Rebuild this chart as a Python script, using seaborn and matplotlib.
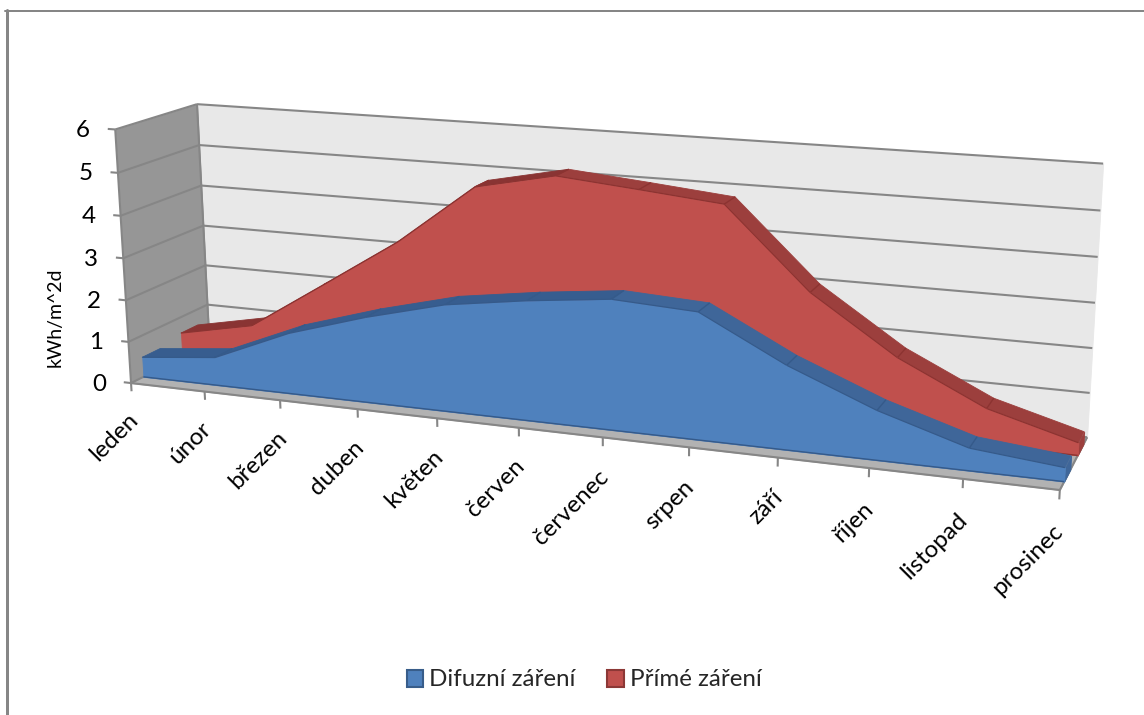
import numpy as np
import matplotlib
matplotlib.use("Agg")
import matplotlib.pyplot as plt
from matplotlib.lines import Line2D
from matplotlib.patches import Patch
from mpl_toolkits.mplot3d.art3d import Poly3DCollection, Line3DCollection
from mpl_toolkits.mplot3d import proj3d
import seaborn as sns

months = ["leden", "únor", "březen", "duben", "květen", "červen",
          "červenec", "srpen", "září", "říjen", "listopad", "prosinec"]
difuzni = [0.48, 0.67, 1.44, 2.00, 2.47, 2.74, 2.95, 2.85, 1.87, 1.09, 0.49, 0.30]
prime = [0.61, 0.98, 2.16, 3.35, 4.78, 5.17, 5.00, 4.82, 3.02, 1.75, 0.82, 0.28]
y_ticks = [0, 1, 2, 3, 4, 5, 6]

W, H = 1144, 715

# camera: where the chart box lands on the page, (month, depth, value) -> pixel
box_pts = [(0, 0, 0), (0, 1, 0), (11, 1, 0), (11, 0, 0), (0, 0, 6), (0, 1, 6), (11, 1, 6),
           (1, 0, 0), (2, 0, 0), (9, 0, 0), (10, 0, 0), (0, 1, 3), (11, 1, 3)]
box_px = [(131, 383), (209, 344), (1087, 437), (1061, 490), (115, 130), (197, 103), (1103, 164),
          (205, 391.5), (280, 400.2), (868, 467.8), (963, 478.7), (204, 226), (1095, 303)]


def solve_camera(pts, px):
    rows = []
    for (x, y, z), (u, v) in zip(pts, px):
        u, v = u / 1000, v / 1000
        rows.append([x, y, z, 1, 0, 0, 0, 0, -u * x, -u * y, -u * z, -u])
        rows.append([0, 0, 0, 0, x, y, z, 1, -v * x, -v * y, -v * z, -v])
    p = np.linalg.svd(np.array(rows))[2][-1].reshape(3, 4)
    if p[2, 3] < 0:
        p = -p
    return np.vstack([p[0] * 1000, p[1] * 1000, [0, 1, 0, 0], p[2]])


sns.set_theme(style="white", font="Lato")
blue, red = sns.color_palette(["#4f81bd", "#c0504d"])
BLUE_DEPTH = (0.15, 0.37)
RED_DEPTH = (0.64, 0.86)
GRID = "#868686"
TEXT_SIZE = 17.4

fig = plt.figure(figsize=(W / 100, H / 100), dpi=100, facecolor="white")
ax = fig.add_axes([0, 0, 1, 1], projection="3d", computed_zorder=False)
ax.set_axis_off()
M = solve_camera(box_pts, box_px)
ax.get_proj = lambda: M
ax.apply_aspect = lambda position=None: None
ax.viewLim.intervalx = (0, W)
ax.viewLim.intervaly = (H, 0)


def to_px(x, y, z):
    tx, ty, _ = proj3d.proj_transform(x, y, z, M)
    return float(tx), float(ty)


def flat(verts, color, z, edge=None):
    poly = Poly3DCollection(verts, facecolors=color, edgecolors=edge if edge else color,
                            linewidths=0.6, zorder=z)
    ax.add_collection3d(poly, autolim=False)


def lines(segs, color, lw, z):
    coll = Line3DCollection(segs, colors=color, linewidths=lw, zorder=z)
    ax.add_collection3d(coll, autolim=False)


def draw_area(values, depth, front, top_up, top_down, crease, z):
    d0, d1 = depth
    n = len(values)
    strips, colors = [], []
    for i in range(n - 1):
        strips.append([(i, d0, values[i]), (i + 1, d0, values[i + 1]),
                       (i + 1, d1, values[i + 1]), (i, d1, values[i])])
        colors.append(top_down if values[i + 1] < values[i] else top_up)
    flat(strips, colors, z)
    lines([[(i, d0, values[i]), (i, d1, values[i])] for i in range(1, n - 1)], crease, 1, z + 0.1)
    end = n - 1
    flat([[(end, d0, 0), (end, d1, 0), (end, d1, values[end]), (end, d0, values[end])]], top_down, z + 0.3)
    outline = [(0, d0, 0)] + [(i, d0, values[i]) for i in range(n)] + [(end, d0, 0)]
    flat([outline], front, z + 0.4)
    lines([[(i, d0, values[i]), (i + 1, d0, values[i + 1])] for i in range(n - 1)], crease, 0.9, z + 0.5)
    lines([[(0, d0, 0), (end, d0, 0)]], crease, 1, z + 0.5)


# walls and floor
flat([[(0, 1, 0), (11, 1, 0), (11, 1, 6), (0, 1, 6)]], "#e8e8e8", 1)
flat([[(0, 0, 0), (0, 1, 0), (0, 1, 6), (0, 0, 6)]], "#969696", 1.1)
flat([[(0, 0, 0), (11, 0, 0), (11, 1, 0), (0, 1, 0)]], "#b2b2b2", 1.2)

grid_segs = []
for v in y_ticks:
    grid_segs.append([(0, 1, v), (11, 1, v)])
    grid_segs.append([(0, 0, v), (0, 1, v)])
    grid_segs.append([(-0.1, 0, v), (0, 0, v)])
grid_segs += [[(0, 1, 0), (0, 1, 6)], [(0, 0, 0), (0, 0, 6)], [(0, 0, 0), (11, 0, 0)], [(11, 0, 0), (11, 1, 0)]]
for i in range(len(months)):
    grid_segs.append([(i, 0, 0), (i, 0, -0.2)])
lines(grid_segs, GRID, 1.5, 2)

draw_area(prime, RED_DEPTH, red, "#893433", "#9c3f3d", "#8c3331", 3)
draw_area(difuzni, BLUE_DEPTH, blue, "#375d8f", "#3f6699", "#355a8a", 4)

# axis text
for v in y_ticks:
    tx, ty = to_px(0, 0, v)
    fig.text((tx - 25) / W, 1 - (ty + 1) / H, str(v), ha="right", va="center", fontsize=TEXT_SIZE, color="black")
for i, name in enumerate(months):
    tx, ty = to_px(i, 0, -0.75)
    fig.text((tx + 2) / W, 1 - (ty + 3) / H, name, rotation=45, rotation_mode="anchor",
             ha="right", va="center", fontsize=TEXT_SIZE, color="black")
fig.text(55 / W, 1 - 317 / H, "kWh/m^2d", rotation=90, ha="center", va="center", fontsize=14, color="black")

handles = [Patch(facecolor=blue, edgecolor="#385d8a", lw=1.5, label="Difuzní záření"),
           Patch(facecolor=red, edgecolor="#8c3836", lw=1.5, label="Přímé záření")]
fig.legend(handles=handles, loc="center", bbox_to_anchor=(584 / W, 1 - 680 / H), ncols=2, frameon=False,
           fontsize=TEXT_SIZE, handlelength=0.7, handleheight=0.7, handletextpad=0.25, columnspacing=1.28)

# page border: only the top and left edges are visible
fig.add_artist(Line2D([5 / W, 1], [1 - 10.5 / H, 1 - 10.5 / H], transform=fig.transFigure, color=GRID, lw=1.44))
fig.add_artist(Line2D([6.5 / W, 6.5 / W], [0, 1 - 9.5 / H], transform=fig.transFigure, color=GRID, lw=2.16))

fig.savefig("out.png", dpi=100)
